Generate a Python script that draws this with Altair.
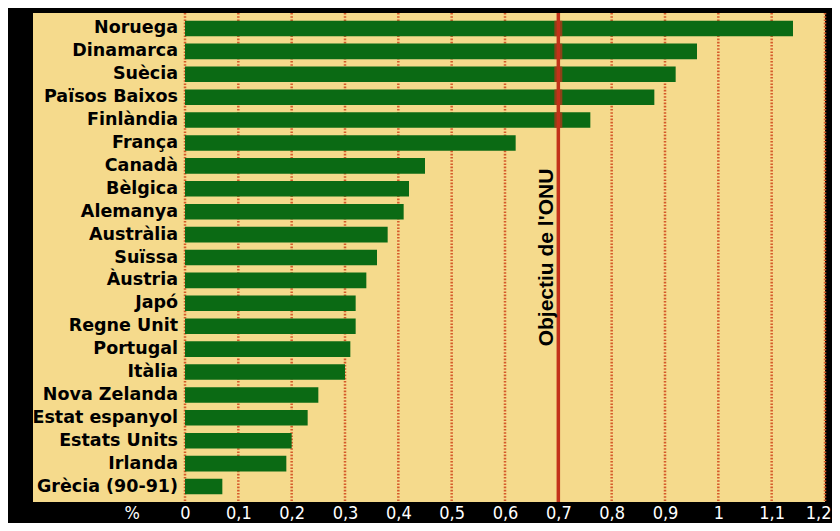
import altair as alt
import pandas as pd

countries = ["Noruega", "Dinamarca", "Suècia", "Països Baixos", "Finlàndia", "França",
             "Canadà", "Bèlgica", "Alemanya", "Austràlia", "Suïssa", "Àustria", "Japó",
             "Regne Unit", "Portugal", "Itàlia", "Nova Zelanda", "Estat espanyol",
             "Estats Units", "Irlanda", "Grècia (90-91)"]
values = [1.14, 0.96, 0.92, 0.88, 0.76, 0.62, 0.45, 0.42, 0.41, 0.38, 0.36, 0.34, 0.32,
          0.32, 0.31, 0.30, 0.25, 0.23, 0.20, 0.19, 0.07]
grid_values = [0, 0.1, 0.2, 0.3, 0.4, 0.5, 0.6, 0.8, 0.9, 1.0, 1.1, 1.2]
axis_values = [-0.1, 0, 0.1, 0.2, 0.3, 0.4, 0.5, 0.6, 0.7, 0.8, 0.9, 1.0, 1.1, 1.2]
target_value = 0.7
target_label = "Objectiu de l'ONU"
target_row = "Suïssa"

YELLOW = "#F5DA8C"
GREEN = "#0B6A14"
RED = "#C3321A"
DOT = "#D55A2A"

df = pd.DataFrame({"country": countries, "value": values})
grid_df = pd.DataFrame({"g": grid_values})
target_df = pd.DataFrame({"value": [target_value], "label": [target_label], "country": [target_row]})

xscale = alt.Scale(domain=[-0.285, 1.2], nice=False, zero=False)
yscale = alt.Scale(domain=countries, paddingInner=0.32, paddingOuter=0.335)

xaxis = alt.Axis(values=axis_values, title=None, grid=False, ticks=False, tickSize=0,
                 domain=False, labelColor="white", labelFontSize=18,
                 labelFont="Liberation Sans Narrow, DejaVu Sans Condensed, sans-serif",
                 labelBaseline="alphabetic", labelPadding=16,
                 labelFlush=True, labelFlushOffset=6, labelOverlap=False,
                 labelExpr="datum.value < 0 ? '%' : replace(format(datum.value, '.1~f'), '.', ',')")

grid = alt.Chart(grid_df).mark_rule(color=DOT, strokeWidth=2.5, strokeDash=[1.6, 1.6]).encode(
    x=alt.X("g:Q", scale=xscale, axis=xaxis),
)

bars = alt.Chart(df).mark_bar(color=GREEN).encode(
    x=alt.X("value:Q", scale=xscale, axis=xaxis),
    x2=alt.datum(0),
    y=alt.Y("country:N", scale=yscale, sort=countries, axis=None),
)

patches = alt.Chart(df).transform_filter(f"datum.value > {target_value}").mark_tick(
    color=RED, thickness=8, size=15.5, orient="vertical").encode(
    x=alt.datum(target_value),
    y=alt.Y("country:N", scale=yscale, sort=countries, axis=None),
)

target_rule = alt.Chart(target_df).mark_rule(color=RED, strokeWidth=3.5).encode(
    x=alt.X("value:Q", scale=xscale, axis=xaxis),
)

target_text = alt.Chart(target_df).mark_text(
    angle=270, align="center", baseline="alphabetic", dy=-5, fontSize=21,
    fontWeight="bold", font="Liberation Sans, Arial, sans-serif", color="black").encode(
    x=alt.X("value:Q", scale=xscale, axis=xaxis),
    y=alt.Y("country:N", scale=yscale, sort=countries, axis=None),
    text="label:N",
)

labels = alt.Chart(df).mark_text(
    align="right", baseline="middle", dx=-7, fontSize=17.5, fontWeight="bold",
    font="DejaVu Sans, sans-serif", color="black").encode(
    x=alt.datum(0),
    y=alt.Y("country:N", scale=yscale, sort=countries, axis=None),
    text="country:N",
)

chart = alt.layer(grid, bars, patches, target_rule, target_text, labels).properties(
    width=792, height=489,
    background="black",
    padding={"left": 25, "top": 5, "right": 7, "bottom": 21},
    autosize=alt.AutoSizeParams(type="none"),
).configure_view(fill=YELLOW, stroke=None)

chart.save("out.html", embed_options={"renderer": "svg", "actions": False})
